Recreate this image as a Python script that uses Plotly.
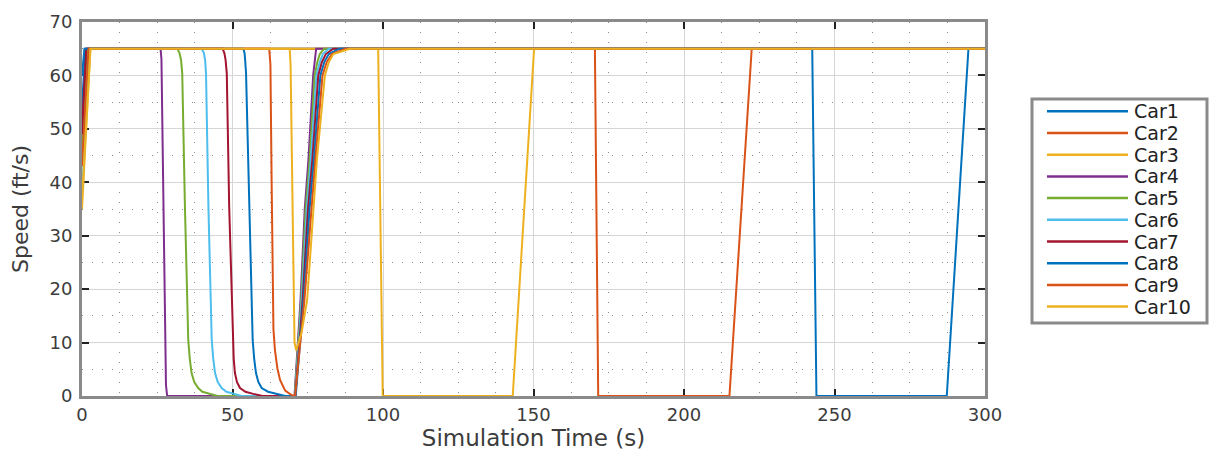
import plotly.graph_objects as go

# ---- data ----
car_names = ["Car1", "Car2", "Car3", "Car4", "Car5", "Car6", "Car7", "Car8", "Car9", "Car10"]
car_colors = ["#0072BD", "#D95319", "#EDB120", "#7E2F8E", "#77AC30",
              "#4DBEEE", "#A2142F", "#0072BD", "#D95319", "#EDB120"]

car1_t = [0, 1.1, 242.6, 244.0, 287.3, 294.5, 300]
car1_v = [54, 65, 65, 0, 0, 65, 65]

car2_t = [0, 1.8, 170.4, 171.5, 215.1, 222.5, 300]
car2_v = [47, 65, 65, 0, 0, 65, 65]

car3_t = [0, 2.8, 98.4, 99.9, 143.1, 147.0, 150.2, 300]
car3_v = [35, 65, 65, 0, 0, 37, 65, 65]

car4_t = [0, 1.5, 26.1, 26.4, 27.9, 28.3, 70.6, 72.6, 74.0, 75.2, 76.8, 77.8, 300]
car4_v = [50, 65, 65, 63, 2, 0, 0, 18, 35, 44, 60, 65, 65]

car5_t = [0, 2.0, 31.7, 32.4, 32.9, 33.3, 34.2, 35.3, 35.8, 36.4, 37.3, 38.6, 40.0, 42.5, 45.0,
          70.7, 72.8, 74.3, 75.6, 77.3, 78.2, 79.0, 80.5, 300]
car5_v = [45, 65, 65, 64.2, 62.9, 60.4, 35.4, 10.5, 7.0, 4.3, 2.6, 1.5, 0.8, 0.4, 0,
          0, 18, 35, 44, 60, 62.5, 64, 65, 65]

car6_t = [0, 2.6, 39.8, 40.5, 40.9, 41.2, 42.0, 43.1, 43.6, 44.2, 45.1, 46.4, 48.0, 50.3, 53.0,
          70.8, 73.0, 74.7, 76.0, 77.9, 79.0, 80.0, 82.0, 300]
car6_v = [38, 65, 65, 64.2, 62.9, 60.4, 35.4, 10.5, 7.0, 4.3, 2.6, 1.5, 0.8, 0.4, 0,
          0, 18, 35, 44, 60, 62.5, 64, 65, 65]

car7_t = [0, 1.4, 46.7, 47.3, 47.7, 48.1, 48.9, 50.1, 50.4, 50.8, 51.5, 52.5, 54.3, 56.9, 60.0,
          70.9, 73.3, 75.1, 76.5, 78.5, 79.7, 81.0, 83.5, 300]
car7_v = [49, 65, 65, 64.2, 62.9, 60.4, 35.4, 10.5, 7.0, 4.3, 2.6, 1.5, 0.8, 0.4, 0,
          0, 18, 35, 44, 60, 62.5, 64, 65, 65]

car8_t = [0, 0.8, 53.6, 54.0, 54.2, 54.5, 55.6, 56.7, 57.2, 57.8, 58.6, 59.7, 61.8, 64.7, 67.5,
          71.0, 73.6, 75.6, 77.0, 79.2, 80.5, 82.0, 85.5, 300]
car8_v = [60, 65, 65, 64.2, 62.9, 60.4, 35.4, 10.5, 7.0, 4.3, 2.6, 1.5, 0.8, 0.4, 0,
          0, 18, 35, 44, 60, 62.5, 64, 65, 65]

car9_t = [0, 2.2, 62.2, 62.4, 62.6, 63.0, 63.3, 63.6, 64.1, 64.9, 65.8, 67.5, 69.5, 70.8,
          73.9, 76.1, 77.5, 79.9, 81.3, 83.0, 87.5, 300]
car9_v = [43, 65, 65, 64, 62, 40, 18, 12.5, 8.6, 5.2, 3, 1, 0.2, 0,
          18, 35, 44, 60, 62.5, 64, 65, 65]

car10_t = [0, 2.8, 69.0, 69.3, 70.6, 71.2, 73.0, 74.8, 76.9, 78.0, 80.7, 82.0, 83.5, 89.0, 300]
car10_v = [37, 65, 65, 62, 10, 8.5, 12, 18, 35, 44, 60, 62.5, 64, 65, 65]

all_t = [car1_t, car2_t, car3_t, car4_t, car5_t, car6_t, car7_t, car8_t, car9_t, car10_t]
all_v = [car1_v, car2_v, car3_v, car4_v, car5_v, car6_v, car7_v, car8_v, car9_v, car10_v]

x_ticks = [0, 50, 100, 150, 200, 250, 300]
y_ticks = [0, 10, 20, 30, 40, 50, 60, 70]

FONT = "DejaVu Sans"
TXT = "#3c3c3c"

# The page body has an 8px default margin, so the figure is shrunk by that amount
# and page-pixel positions are converted to figure pixels.
OFF = 8
W, H = 1228 - OFF, 459 - OFF
PLOT_L, PLOT_R, PLOT_T, PLOT_B = 82, 985, 22, 396       # plot frame in page pixels
ML, MT = PLOT_L - OFF, PLOT_T - OFF
MR, MB = 1228 - PLOT_R, 459 - PLOT_B
PW, PH = PLOT_R - PLOT_L, PLOT_B - PLOT_T


def px_x(px):
    return (px - PLOT_L) / PW


def px_y(py):
    return (PLOT_B - py) / PH


fig = go.Figure()
for name, color, t, v in zip(car_names, car_colors, all_t, all_v):
    fig.add_trace(go.Scatter(x=t, y=v, mode="lines", name=name,
                             line=dict(color=color, width=2), showlegend=False))

axis_common = dict(
    showline=True, linecolor="#8a8a8a", linewidth=3, mirror="allticks",
    ticks="inside", ticklen=7, tickwidth=1.5, tickcolor="#222222",
    showgrid=True, gridcolor="#d6d6d6", gridwidth=1,
    zeroline=False, layer="below traces", automargin=False,
    tickfont=dict(family=FONT, size=18, color=TXT),
)

fig.update_xaxes(range=[0, 300], tickvals=x_ticks,
                 minor=dict(dtick=12.5, showgrid=True, gridcolor="#8c8c8c",
                            griddash="1px,9px", gridwidth=1, ticks=""),
                 title=dict(text="Simulation Time (s)", standoff=1,
                            font=dict(family=FONT, size=23, color=TXT)),
                 ticklabelstandoff=0, **axis_common)
fig.update_yaxes(range=[0, 70], tickvals=y_ticks,
                 minor=dict(dtick=5, showgrid=True, gridcolor="#8c8c8c",
                            griddash="1px,9px", gridwidth=1, ticks=""),
                 title=dict(text="Speed (ft/s)", standoff=15,
                            font=dict(family=FONT, size=22, color=TXT)),
                 ticklabelstandoff=3, **axis_common)

# ---- legend box (drawn like the MATLAB legend: long line samples) ----
shapes = [dict(type="rect", xref="paper", yref="paper",
               x0=px_x(1032), x1=px_x(1207), y0=px_y(323), y1=px_y(99),
               line=dict(color="#8a8a8a", width=3), fillcolor="white", layer="above")]
annotations = []
row0, row_gap = 111.3, 21.7
for i, (name, color) in enumerate(zip(car_names, car_colors)):
    yy = px_y(row0 + i * row_gap)
    shapes.append(dict(type="line", xref="paper", yref="paper",
                       x0=px_x(1047), x1=px_x(1128), y0=yy, y1=yy,
                       line=dict(color=color, width=2.5), layer="above"))
    annotations.append(dict(xref="paper", yref="paper", x=px_x(1132), y=yy,
                            xanchor="left", yanchor="middle", showarrow=False,
                            text=name, font=dict(family=FONT, size=19, color="#222222")))

fig.update_layout(
    width=W, height=H,
    margin=dict(l=ML, r=MR, t=MT, b=MB),
    paper_bgcolor="white", plot_bgcolor="white",
    showlegend=False,
    shapes=shapes, annotations=annotations,
)

fig.write_html("out.html")
